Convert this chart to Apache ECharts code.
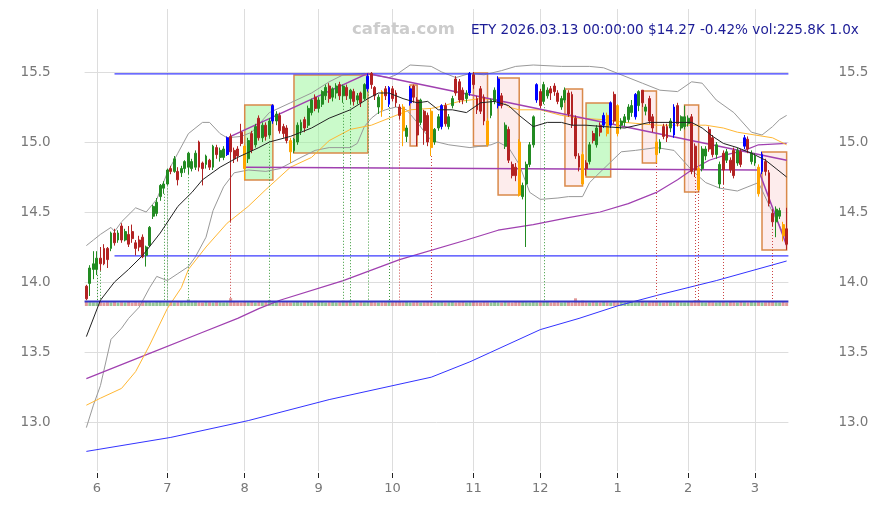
<!DOCTYPE html>
<html><head><meta charset="utf-8">
<script src="https://cdn.jsdelivr.net/npm/echarts@6/dist/echarts.min.js"></script>
<style>html,body{margin:0;padding:0;background:#fff}#c{width:875px;height:505px}</style>
</head><body><div id="c"></div>
<script>
// ---- candles per month: [open, close, low, high] ----
const may = [[13.97,13.88,13.87,13.98],[13.99,14.10,13.90,14.12],[14.09,14.13,14.02,14.22]];
const jun = [[14.09,14.17,14.05,14.22],[14.17,14.13,14.08,14.25],[14.24,14.13,14.12,14.27],[14.24,14.16,14.10,14.25],[14.24,14.35,14.22,14.36],[14.35,14.28,14.26,14.38],[14.30,14.35,14.28,14.37],[14.40,14.30,14.28,14.42],[14.30,14.36,14.29,14.38],[14.34,14.27,14.25,14.40],[14.36,14.31,14.28,14.41],[14.28,14.24,14.19,14.30],[14.30,14.25,14.22,14.33],[14.32,14.18,14.17,14.34],[14.19,14.25,14.11,14.26],[14.26,14.39,14.25,14.40],[14.47,14.54,14.45,14.55],[14.49,14.57,14.47,14.60],[14.61,14.69,14.58,14.70],[14.67,14.70,14.63,14.72]];
const jul = [[14.70,14.80,14.69,14.81],[14.81,14.79,14.77,14.83],[14.79,14.88,14.78,14.90],[14.79,14.73,14.69,14.82],[14.78,14.81,14.75,14.83],[14.81,14.86,14.78,14.87],[14.82,14.92,14.77,14.93],[14.81,14.86,14.79,14.88],[14.82,14.92,14.80,14.94],[15.00,14.82,14.79,15.01],[14.85,14.81,14.69,14.86],[14.84,14.90,14.81,14.91],[14.87,14.82,14.80,14.88],[14.82,14.97,14.80,14.98],[14.96,14.91,14.88,14.98],[14.89,14.94,14.86,14.96],[14.89,14.95,14.87,14.97],[14.91,15.03,14.90,15.04],[15.04,14.93,14.43,15.06],[14.94,14.88,14.85,14.96],[14.95,14.90,14.86,14.97],[15.07,14.99,14.97,15.13]];
const aug = [[14.97,14.81,14.73,14.98],[14.88,15.01,14.85,15.03],[15.06,14.94,14.92,15.08],[14.98,15.11,14.96,15.13],[15.17,15.03,15.01,15.19],[15.03,15.12,15.00,15.14],[15.12,15.04,15.01,15.14],[15.05,15.15,15.03,15.17],[15.15,15.26,15.13,15.27],[15.15,15.20,15.12,15.22],[15.19,15.08,15.06,15.21],[15.11,15.06,15.03,15.13],[15.10,15.01,14.99,15.12],[15.01,14.93,14.85,15.03],[14.94,15.02,14.92,15.03],[15.00,15.12,14.98,15.14],[15.08,15.14,15.05,15.16],[15.16,15.10,15.07,15.18],[15.12,15.24,15.10,15.26],[15.21,15.30,15.19,15.31],[15.32,15.24,15.22,15.34]];
const sep = [[15.24,15.30,15.21,15.32],[15.27,15.36,15.25,15.37],[15.33,15.39,15.30,15.41],[15.40,15.31,15.28,15.42],[15.32,15.38,15.29,15.39],[15.35,15.40,15.31,15.42],[15.41,15.33,15.30,15.43],[15.33,15.40,15.28,15.41],[15.39,15.33,15.30,15.41],[15.31,15.37,15.27,15.38],[15.36,15.29,15.26,15.38],[15.30,15.33,15.27,15.35],[15.35,15.28,15.25,15.36],[15.31,15.41,15.30,15.42],[15.38,15.47,15.36,15.49],[15.49,15.41,15.38,15.50],[15.39,15.33,15.30,15.40],[15.25,15.32,15.20,15.34],[15.36,15.23,15.18,15.37],[15.38,15.33,15.30,15.40],[15.27,15.39,15.25,15.40]];
const oct = [[15.38,15.31,15.29,15.40],[15.35,15.28,15.25,15.37],[15.25,15.19,15.16,15.27],[15.25,15.08,14.97,15.27],[15.04,15.10,15.00,15.12],[15.28,15.38,15.26,15.40],[15.40,15.32,15.28,15.41],[15.30,15.05,14.97,15.32],[15.14,15.30,15.12,15.31],[15.22,15.08,14.98,15.23],[15.19,15.00,14.97,15.21],[15.22,14.96,14.90,15.24],[15.00,15.09,14.98,15.10],[15.10,15.18,15.08,15.20],[15.11,15.26,15.09,15.27],[15.26,15.13,15.11,15.28],[15.11,15.18,15.09,15.20],[15.26,15.31,15.24,15.33],[15.45,15.35,15.33,15.47],[15.43,15.30,15.28,15.45],[15.37,15.30,15.27,15.39],[15.31,15.35,15.28,15.37],[15.35,15.49,15.33,15.50]];
const nov = [[15.48,15.41,15.38,15.50],[15.31,15.23,15.20,15.33],[15.38,15.22,15.20,15.40],[15.32,15.15,15.12,15.34],[15.15,14.98,14.97,15.17],[15.19,15.30,15.17,15.31],[15.29,15.37,15.27,15.39],[15.26,15.45,15.24,15.47],[15.33,15.26,15.24,15.35],[14.97,15.12,14.95,15.14],[15.09,14.87,14.85,15.11],[14.84,14.76,14.74,14.86],[14.82,14.76,14.72,14.85],[15.00,14.62,14.61,15.02],[14.61,14.69,14.59,14.71],[14.70,14.84,14.25,14.86],[14.84,14.98,14.82,15.00],[14.98,15.18,14.96,15.19],[15.30,15.41,15.28,15.42]];
const dec = [[15.36,15.26,15.24,15.38],[15.29,15.41,15.27,15.43],[15.33,15.37,15.31,15.39],[15.38,15.35,15.30,15.40],[15.40,15.36,15.33,15.42],[15.35,15.29,15.27,15.37],[15.25,15.31,15.23,15.33],[15.30,15.37,15.28,15.39],[15.35,15.20,15.18,15.37],[15.34,15.12,15.10,15.36],[15.17,14.90,14.88,15.19],[14.90,14.82,14.79,14.92],[14.91,14.70,14.69,14.93],[14.85,14.81,14.76,14.87],[14.86,14.98,14.84,15.00],[15.06,15.01,14.99,15.08],[14.98,15.10,14.96,15.12],[15.12,15.07,15.04,15.14],[15.12,15.19,15.10,15.21],[15.19,15.06,15.04,15.21],[15.12,15.28,15.10,15.29],[15.34,15.15,15.13,15.36]];
const jan = [[15.26,15.06,15.04,15.27],[15.12,15.15,15.09,15.17],[15.14,15.18,15.11,15.20],[15.16,15.25,15.14,15.27],[15.21,15.26,15.18,15.30],[15.18,15.34,15.16,15.35],[15.26,15.36,15.22,15.37],[15.37,15.28,15.25,15.37],[15.22,15.25,15.19,15.27],[15.31,15.15,15.13,15.33],[15.18,15.10,15.07,15.20],[15.00,14.91,14.85,15.02],[14.95,15.00,14.92,15.02],[15.11,15.04,15.02,15.13],[15.11,15.03,15.00,15.13],[15.10,15.15,15.07,15.17],[15.05,15.25,15.03,15.27],[15.26,15.13,15.11,15.28],[15.10,15.18,15.08,15.19],[15.11,15.18,15.09,15.26]];
const feb = [[15.13,15.17,15.11,15.19],[15.18,14.79,14.77,15.20],[14.97,14.80,14.75,14.99],[14.81,14.66,14.65,14.83],[14.81,14.95,14.79,14.97],[14.90,14.95,14.87,14.97],[15.09,14.95,14.93,15.11],[15.03,14.91,14.89,15.05],[14.91,14.98,14.88,15.00],[14.70,14.84,14.67,14.86],[14.92,14.80,14.70,14.94],[14.87,14.93,14.85,14.95],[14.87,14.80,14.78,14.89],[14.94,14.76,14.74,14.96],[14.85,14.94,14.83,14.96],[14.93,14.84,14.82,14.95],[14.97,15.03,14.95,15.05],[15.02,14.95,14.92,15.04],[14.86,14.92,14.84,14.94]];
const mar = [[14.85,14.90,14.83,14.92],[14.82,14.63,14.61,14.84],[14.79,14.91,14.77,14.93],[14.86,14.79,14.76,14.88],[14.78,14.56,14.54,14.80],[14.49,14.43,14.40,14.52],[14.43,14.52,14.32,14.54],[14.47,14.51,14.45,14.53],[14.41,14.33,14.29,14.43],[14.38,14.27,14.23,14.53]];

// ---- volume per month (K shares) ----
const volMay = [300,240,230];
const volJun = [230,250,220,240,230,260,220,240,230,250,220,240,230,260,250,240,230,260,250,240];
const volJul = [240,250,230,240,250,230,410,250,320,240,230,250,240,230,250,240,230,240,490,250,240,230];
const volAug = [260,240,250,230,250,240,250,370,240,250,230,240,250,230,240,250,230,240,250,230,240];
const volSep = [240,250,230,240,250,230,240,330,250,330,240,230,250,240,300,250,240,230,240,240,330];
const volOct = [240,250,300,240,250,230,240,250,230,240,250,300,230,240,250,230,240,250,230,240,250,230,240];
const volNov = [250,240,230,250,240,230,250,240,230,250,240,230,260,280,250,240,230,250,240];
const volDec = [240,300,250,230,240,250,230,240,250,230,480,250,330,240,230,250,240,230,250,240,230,250];
const volJan = [240,250,230,240,250,230,240,250,230,240,250,300,240,230,250,240,230,250,240,230];
const volFeb = [240,250,360,370,240,230,250,240,230,240,300,230,250,240,230,250,240,230,250];
const volMar = [240,250,230,240,250,300,240,230,250,226];
const volAvg = [[-0.5,280],[199.5,280]];

const monthLabels = ['5','6','7','8','9','10','11','12','1','2','3'];

// special candles (day index)
const blueDays = [40,53,80,86,92,101,109,117,128,147,149,156,167,187,192];
const orangeDays = [45,58,84,90,98,114,123,141,148,151,162,174,191,198];
const greenSignals = [3,4,22,23,29,52,73,75,80,86,130];
const redSignals = [41,89,98,162,173,174,181,195];
const signalBase = 13.87;

// overlay lines [dayIndex, value]
const maBlack = [[0,13.61],[4,13.87],[8,14.00],[12,14.09],[16,14.19],[21,14.35],[26,14.54],[30,14.64],[33,14.73],[38,14.82],[43,14.89],[49,14.96],[52,15.00],[58,15.04],[64,15.10],[69,15.17],[75,15.23],[80,15.31],[83,15.35],[86,15.35],[90,15.31],[94,15.28],[97,15.29],[100,15.23],[104,15.23],[108,15.21],[112,15.28],[116,15.29],[120,15.26],[123,15.19],[127,15.11],[131,15.14],[135,15.14],[138,15.12],[142,15.12],[147,15.11],[153,15.10],[160,15.14],[166,15.14],[172,15.14],[175,15.10],[178,15.04],[181,14.99],[185,14.96],[189,14.92],[193,14.87],[196,14.81],[199,14.75]];
const maOrange = [[0,13.12],[4,13.17],[10,13.24],[14,13.36],[18,13.55],[23,13.81],[27,13.96],[29,14.09],[34,14.25],[40,14.42],[46,14.54],[51,14.66],[58,14.82],[64,14.89],[69,15.01],[75,15.09],[81,15.12],[86,15.17],[92,15.23],[98,15.24],[100,15.25],[106,15.29],[112,15.31],[118,15.30],[120,15.25],[123,15.23],[129,15.23],[135,15.19],[140,15.17],[147,15.16],[153,15.14],[162,15.12],[171,15.12],[176,15.12],[181,15.10],[185,15.07],[190,15.05],[195,15.03],[199,14.98]];
const maPurple = [[0,13.31],[18,13.49],[32,13.63],[43,13.74],[49,13.81],[55,13.87],[73,14.01],[89,14.16],[108,14.30],[117,14.37],[127,14.41],[137,14.46],[146,14.50],[154,14.56],[162,14.64],[168,14.73],[172,14.80],[177,14.87],[182,14.91],[187,14.94],[191,14.98],[199,14.99]];
const maBlue = [[0,12.79],[24,12.89],[46,13.01],[69,13.16],[98,13.32],[109,13.43],[129,13.66],[140,13.74],[151,13.83],[163,13.91],[179,14.01],[199,14.15]];
const bandUpper = [[0,14.26],[2,14.30],[4,14.34],[7,14.39],[8,14.36],[10,14.43],[14,14.53],[17,14.50],[20,14.59],[23,14.78],[26,14.92],[29,15.06],[33,15.14],[35,15.14],[38,15.06],[40,15.03],[44,15.04],[47,15.07],[52,15.21],[58,15.28],[64,15.35],[69,15.43],[73,15.48],[79,15.49],[81,15.48],[86,15.46],[88,15.48],[92,15.55],[98,15.54],[101,15.50],[105,15.46],[109,15.49],[113,15.48],[118,15.51],[122,15.54],[127,15.55],[135,15.54],[143,15.54],[147,15.53],[151,15.49],[158,15.42],[163,15.37],[168,15.36],[172,15.43],[175,15.42],[179,15.30],[184,15.21],[189,15.07],[192,15.05],[195,15.11],[197,15.16],[199,15.19]];
const bandLower = [[0,12.96],[2,13.12],[4,13.26],[7,13.59],[10,13.67],[12,13.74],[15,13.82],[18,13.96],[20,14.04],[23,14.01],[26,14.06],[29,14.11],[31,14.18],[34,14.32],[36,14.51],[39,14.68],[42,14.78],[46,14.80],[51,14.79],[55,14.81],[58,14.85],[61,14.89],[65,14.94],[69,14.96],[75,14.96],[77,14.99],[79,15.11],[81,15.17],[83,15.21],[85,15.23],[88,15.25],[91,15.23],[94,15.14],[98,15.01],[103,14.98],[109,14.96],[115,14.98],[117,15.00],[120,14.96],[123,14.84],[126,14.64],[129,14.59],[134,14.60],[137,14.61],[141,14.61],[143,14.71],[145,14.76],[152,14.93],[156,14.94],[162,14.96],[167,14.94],[172,14.80],[176,14.71],[180,14.67],[185,14.65],[188,14.68],[191,14.71],[194,14.55],[199,14.30]];
const resistTop = [[8,15.486],[199.5,15.486]];
const supportLow = [[8,14.186],[199.5,14.186]];
const trendUp = [[41,15.04],[80,15.49]];
const trendDown = [[80,15.49],[199,14.87]];
const flatLine = [[45,14.82],[191,14.80],[199,14.26]];
// boxes: [startDay, endDay, top, bottom, kind]
const boxes = [[45,53,15.264,14.729,'g'],[59,80,15.479,14.921,'g'],[92,94,15.407,14.971,'r'],[110,114,15.493,14.971,'r'],[117,123,15.457,14.621,'r'],[136,141,15.379,14.686,'r'],[142,149,15.279,14.75,'g'],[158,162,15.364,14.85,'r'],[170,174,15.264,14.643,'r'],[192,199,14.929,14.229,'r']];

// ---------- build ----------
const months = [may,jun,jul,aug,sep,oct,nov,dec,jan,feb,mar];
const vols = [volMay,volJun,volJul,volAug,volSep,volOct,volNov,volDec,volJan,volFeb,volMar];
const candles = [].concat(...months);
const volumes = [].concat(...vols);
const starts = []; let acc = 0; months.forEach(m => { starts.push(acc); acc += m.length; });
const tickIdx = starts.slice(1);
const labelByIdx = {}; tickIdx.forEach((s, k) => { labelByIdx[s] = monthLabels[k + 1]; });

const UP = '#228B22', DOWN = '#B22222', BLUE = '#0000ff', ORANGE = '#ffa500';
const candleData = candles.map((c, i) => {
  const it = { value: [i, c[0], c[1], c[2], c[3]] };
  let col = null;
  if (blueDays.includes(i)) col = BLUE; else if (orangeDays.includes(i)) col = ORANGE;
  if (col) it.itemStyle = { color: col, color0: col, borderColor: col, borderColor0: col };
  return it;
});
const volData = volumes.map((v, i) => ({
  value: [i, v],
  itemStyle: { color: candles[i][1] >= candles[i][0] ? 'rgba(60,150,60,0.55)' : 'rgba(200,70,70,0.55)' }
}));
const sigLines = [];
greenSignals.forEach(i => sigLines.push([{ coord: [i, candles[i][2]], lineStyle: { color: '#3a9a3a' } }, { coord: [i, signalBase] }]));
redSignals.forEach(i => sigLines.push([{ coord: [i, candles[i][2]], lineStyle: { color: '#cc4444' } }, { coord: [i, signalBase] }]));
const areaData = boxes.map(b => [
  { coord: [b[0], b[2]], itemStyle: { color: b[4] === 'g' ? 'rgba(150,245,150,0.5)' : 'rgba(250,200,200,0.35)' } },
  { coord: [b[1], b[3]] }
]);

const GL = 84.6, GW = 703.8, XMIN = -0.5, XMAX = 199.5;
const line = (data, color, width, z) => ({
  type: 'line', data, xAxisIndex: 0, yAxisIndex: 0, showSymbol: false, symbol: 'none',
  lineStyle: { color, width }, z: z || 2, silent: true, animation: false
});

const chart = echarts.init(document.getElementById('c'));
chart.setOption({
  animation: false,
  backgroundColor: '#fff',
  title: [
    { text: 'cafata.com', left: 347, top: 16, textStyle: { color: '#cccccc', fontSize: 16.5, fontWeight: 'bold', fontFamily: 'DejaVu Sans' } },
    { text: 'ETY 2026.03.13 00:00:00 $14.27 -0.42% vol:225.8K 1.0x', left: 466, top: 18, textStyle: { color: '#1c1c96', fontSize: 13.6, fontWeight: 'normal', fontFamily: 'DejaVu Sans' } }
  ],
  grid: [
    { left: GL, top: 9, width: GW, height: 462 },
    { left: GL, top: 290, width: GW, height: 16 }
  ],
  xAxis: [
    {
      type: 'value', gridIndex: 0, min: XMIN, max: XMAX, offset: 2,
      axisLine: { show: false },
      axisTick: { show: true, customValues: tickIdx, length: 5, lineStyle: { color: '#222' } },
      axisLabel: { customValues: tickIdx, formatter: v => labelByIdx[Math.round(v)] || '', color: '#777', fontSize: 13, fontFamily: 'DejaVu Sans', margin: 9 },
      splitLine: { show: true, lineStyle: { color: '#dddddd', width: 1 } }
    },
    { type: 'value', gridIndex: 1, min: XMIN, max: XMAX, show: false }
  ],
  yAxis: [
    {
      type: 'value', gridIndex: 0, min: 12.65, max: 15.95, position: 'left',
      axisLine: { show: false }, axisTick: { show: false },
      axisLabel: { color: '#777', fontSize: 13.5, fontFamily: 'DejaVu Sans', margin: 34, showMinLabel: false, showMaxLabel: false, formatter: v => v.toFixed(1) },
      splitLine: { show: true, showMinLine: false, showMaxLine: false, lineStyle: { color: '#dddddd', width: 1 } }
    },
    {
      type: 'value', gridIndex: 0, min: 12.65, max: 15.95, position: 'right',
      axisLine: { show: false }, axisTick: { show: false },
      axisLabel: { color: '#777', fontSize: 13.5, fontFamily: 'DejaVu Sans', margin: 50, showMinLabel: false, showMaxLabel: false, formatter: v => v.toFixed(1) },
      splitLine: { show: false }
    },
    { type: 'value', gridIndex: 1, min: 0, max: 1000, show: false }
  ],
  series: [
    { type: 'line', data: [], xAxisIndex: 0, yAxisIndex: 0, z: 1, silent: true,
      markArea: { silent: true, itemStyle: { borderColor: '#d9894a', borderWidth: 1.5 }, data: areaData } },
    { type: 'bar', data: volData, xAxisIndex: 1, yAxisIndex: 2, barWidth: 3, z: 2, silent: true },
    { type: 'line', data: volAvg, xAxisIndex: 1, yAxisIndex: 2, showSymbol: false, lineStyle: { color: '#3535c8', width: 2 }, z: 3, silent: true },
    { type: 'line', data: [], xAxisIndex: 0, yAxisIndex: 0, z: 2, silent: true,
      markLine: { silent: true, symbol: ['none', 'none'], label: { show: false }, lineStyle: { type: [1, 2], width: 1 }, data: sigLines } },
    line(bandUpper, '#999999', 1),
    line(bandLower, '#999999', 1),
    line(maBlue, '#3333ff', 1),
    line(maPurple, '#a040b0', 1.2),
    line(maOrange, '#ffb733', 1),
    line(resistTop, '#3b3bff', 1.2),
    line(supportLow, '#3b3bff', 1.2),
    line(trendUp, '#a040b0', 1.5),
    line(trendDown, '#a040b0', 1.5),
    line(flatLine, '#a040b0', 1.5),
    {
      type: 'candlestick', data: candleData, xAxisIndex: 0, yAxisIndex: 0, z: 4,
      encode: { x: 0, y: [1, 2, 3, 4] }, barWidth: 2.4, silent: true,
      itemStyle: { color: UP, color0: DOWN, borderColor: UP, borderColor0: DOWN, borderWidth: 1 }
    },
    line(maBlack, '#222222', 1, 5)
  ]
});
</script></body></html>
